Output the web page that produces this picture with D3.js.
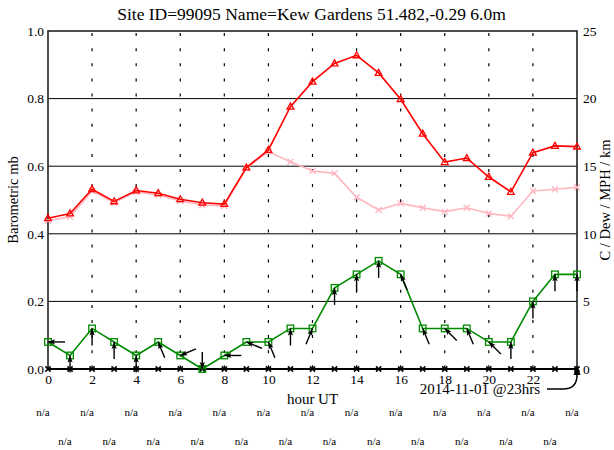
<!DOCTYPE html>
<html><head><meta charset="utf-8">
<script src="https://cdn.jsdelivr.net/npm/d3@7"></script>
<style>
body{margin:0;background:#fff}
svg{display:block}
text{font-family:"Liberation Serif","Times New Roman",serif;fill:#000}
</style>
</head><body>
<svg id="chart" width="614" height="450"></svg>
<script>
// ---- data ----
const title = "Site ID=99095 Name=Kew Gardens 51.482,-0.29 6.0m";
const hours = [0,1,2,3,4,5,6,7,8,9,10,11,12,13,14,15,16,17,18,19,20,21,22,23,24];
const temperature = [11.15,11.5,13.3,12.4,13.2,13.0,12.55,12.3,12.2,14.9,16.2,19.4,21.25,22.6,23.2,21.9,19.95,17.4,15.3,15.6,14.2,13.1,16.0,16.5,16.45];
const dewPoint = [10.97,11.26,13.17,12.3,13.1,12.87,12.43,12.13,12.06,14.85,16.07,15.33,14.64,14.47,12.7,11.76,12.25,11.93,11.64,11.93,11.5,11.3,13.17,13.3,13.44];
const windSpeed = [2,1,3,2,1,2,1,0,1,2,2,3,3,6,7,8,7,3,3,3,2,2,5,7,7];
const windDir = [90,180,180,180,180,157.5,67.5,0,90,112.5,157.5,180,202.5,180,180,180,157.5,157.5,135,157.5,135,180,180,180,180];
const rainfall = [0,0,0,0,0,0,0,0,0,0,0,0,0,0,0,0,0,0,0,0,0,0,0,0,0];
const weatherLabels = ["n/a","n/a","n/a","n/a","n/a","n/a","n/a","n/a","n/a","n/a","n/a","n/a","n/a","n/a","n/a","n/a","n/a","n/a","n/a","n/a","n/a","n/a","n/a","n/a","n/a"];
const xTicks = [0,2,4,6,8,10,12,14,16,18,20,22];
const leftTicks = [0,0.2,0.4,0.6,0.8,1.0];
const rightTicks = [0,5,10,15,20,25];
const gridY = [0.2,0.4,0.6,0.8];
const gridX = [2,4,6,8,10,12,14,16,18,20,22];
const annotation = "2014-11-01 @23hrs";

// ---- layout ----
const svg = d3.select("#chart");
const L = 48, R = 577, T = 31, B = 369;
const x = d3.scaleLinear().domain([0,24]).range([L,R]);
const yL = d3.scaleLinear().domain([0,1]).range([B,T]);
const yR = d3.scaleLinear().domain([0,25]).range([B,T]);

const defs = svg.append("defs");
defs.append("marker").attr("id","ah").attr("viewBox","-8 -4 9 8")
  .attr("refX",0).attr("refY",0).attr("markerWidth",9).attr("markerHeight",8)
  .attr("markerUnits","userSpaceOnUse").attr("orient","auto")
  .append("path").attr("d","M0,0 L-7,-2.6 L-5.5,0 L-7,2.6 Z").attr("fill","#000");

// grid
svg.append("g").selectAll("line").data(gridY).join("line")
  .attr("x1",L).attr("x2",R).attr("y1",d=>yL(d)).attr("y2",d=>yL(d))
  .attr("stroke","#000").attr("stroke-width",1);
svg.append("g").selectAll("line").data(gridX).join("line")
  .attr("x1",d=>x(d)).attr("x2",d=>x(d)).attr("y1",T).attr("y2",B)
  .attr("stroke","#000").attr("stroke-width",1.2)
  .attr("stroke-dasharray","3,12.1").attr("stroke-dashoffset",13);

// axes text
const gl = svg.append("g").attr("transform",`translate(${L-4},0)`)
  .call(d3.axisLeft(yL).tickValues(leftTicks).tickFormat(d3.format(".1f")).tickSize(0).tickPadding(0));
const gr = svg.append("g").attr("transform",`translate(${R+6},0)`)
  .call(d3.axisRight(yR).tickValues(rightTicks).tickFormat(d3.format("d")).tickSize(0).tickPadding(0));
const gb = svg.append("g").attr("transform",`translate(0,${B+5})`)
  .call(d3.axisBottom(x).tickValues(xTicks).tickFormat(d3.format("d")).tickSize(0).tickPadding(0));
[gl,gr,gb].forEach(g=>{g.select(".domain").remove();
  g.selectAll("text").style("font-family","'Liberation Serif',serif").style("font-size","13.5px").attr("fill","#000");});
gb.selectAll("text").attr("dy","0.71em");

// frame
svg.append("rect").attr("x",L).attr("y",T).attr("width",R-L).attr("height",B-T)
  .attr("fill","none").attr("stroke","#222").attr("stroke-width",1.6);

// rainfall baseline series
svg.append("path").datum(hours).attr("fill","none").attr("stroke","#000").attr("stroke-width",2.2)
  .attr("d",d3.line().x(h=>x(h)).y((h,i)=>yR(rainfall[i])));
svg.append("g").selectAll("path").data(hours).join("path")
  .attr("d",(h,i)=>{const cx=x(h),cy=yR(rainfall[i]),s=2.6;return `M${cx-s},${cy-s}L${cx+s},${cy+s}M${cx-s},${cy+s}L${cx+s},${cy-s}`;})
  .attr("stroke","#000").attr("stroke-width",1.5);

// dew point (pink)
const pink = "#ffb6c1";
svg.append("path").datum(hours).attr("fill","none").attr("stroke",pink).attr("stroke-width",1.6)
  .attr("d",d3.line().x(h=>x(h)).y((h,i)=>yR(dewPoint[i])));
svg.append("g").selectAll("path").data(hours).join("path")
  .attr("d",(h,i)=>{const cx=x(h),cy=yR(dewPoint[i]),s=3;return `M${cx-s},${cy-s}L${cx+s},${cy+s}M${cx-s},${cy+s}L${cx+s},${cy-s}`;})
  .attr("stroke",pink).attr("stroke-width",1.3);

// temperature (red)
svg.append("path").datum(hours).attr("fill","none").attr("stroke","#ff0000").attr("stroke-width",1.6)
  .attr("d",d3.line().x(h=>x(h)).y((h,i)=>yR(temperature[i])));
svg.append("g").selectAll("path").data(hours).join("path")
  .attr("d",(h,i)=>{const cx=x(h),cy=yR(temperature[i]);return `M${cx},${cy-3.6}L${cx+3.4},${cy+2.4}L${cx-3.4},${cy+2.4}Z`;})
  .attr("fill","none").attr("stroke","#ff0000").attr("stroke-width",1.3);

// wind speed (green)
const green = "#008a00";
svg.append("path").datum(hours).attr("fill","none").attr("stroke",green).attr("stroke-width",1.6)
  .attr("d",d3.line().x(h=>x(h)).y((h,i)=>yR(windSpeed[i])));
svg.append("g").selectAll("rect").data(hours).join("rect")
  .attr("x",h=>x(h)-3.3).attr("y",(h,i)=>yR(windSpeed[i])-3.3).attr("width",6.6).attr("height",6.6)
  .attr("fill","none").attr("stroke",green).attr("stroke-width",1.3);

// wind direction arrows
const AL = 17;
svg.append("g").selectAll("line").data(hours).join("line")
  .attr("x1",(h,i)=>x(h)+AL*Math.sin(windDir[i]*Math.PI/180))
  .attr("y1",(h,i)=>yR(windSpeed[i])-AL*Math.cos(windDir[i]*Math.PI/180))
  .attr("x2",h=>x(h)).attr("y2",(h,i)=>yR(windSpeed[i]))
  .attr("stroke","#000").attr("stroke-width",1.4).attr("marker-end","url(#ah)");

// weather labels below axis
svg.append("g").selectAll("text").data(hours).join("text")
  .attr("x",h=>x(h)-5).attr("y",h=>h%2===0?416:445)
  .attr("text-anchor","middle").style("font-size","11px").attr("fill","#222")
  .text((h,i)=>weatherLabels[i]);

// axis titles
svg.append("text").attr("x",312.5).attr("y",404).attr("text-anchor","middle")
  .style("font-size","15px").text("hour UT");
svg.append("text").attr("transform","translate(18,200) rotate(-90)").attr("text-anchor","middle")
  .style("font-size","14.5px").text("Barometric mb");
svg.append("text").attr("transform","translate(610,200) rotate(-90)").attr("text-anchor","middle")
  .style("font-size","14.5px").text("C / Dew / MPH / km");
svg.append("text").attr("x",311.5).attr("y",20).attr("text-anchor","middle")
  .style("font-size","17.5px").text(title);

// annotation with curved arrow to last hour
const ax = x(24), ay = B;
svg.append("text").attr("x",ax-37).attr("y",ay+25).attr("text-anchor","end")
  .style("font-size","15px").text(annotation);
svg.append("path").attr("d",`M${ax-30},${ay+20} L${ax-14},${ay+20} Q${ax},${ay+20} ${ax},${ay+6}`)
  .attr("fill","none").attr("stroke","#000").attr("stroke-width",1.5);
svg.append("path").attr("d",`M${ax},${ay-4} L${ax+3.5},${ay+6} L${ax-3.5},${ay+6} Z`).attr("fill","#000");
</script>
</body></html>
